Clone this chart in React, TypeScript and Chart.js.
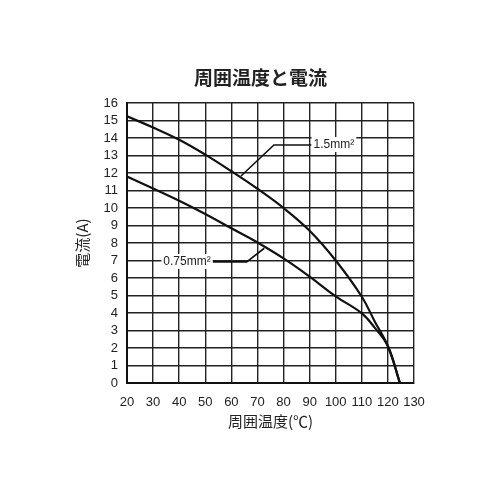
import React, { useEffect, useRef } from "react";
import { Chart, registerables } from "chart.js";

Chart.register(...registerables);

const TITLE = "周囲温度と電流";
const X_TITLE = "周囲温度(℃)";
const Y_TITLE = "電流(A)";

const temps = [20, 30, 40, 50, 60, 70, 80, 90, 100, 110, 115, 120, 124.6];
const current15 = [15.24, 14.6, 13.9, 13.05, 12.1, 11.1, 10.0, 8.7, 7.0, 4.93, 3.5, 2.1, 0];
const current075 = [11.8, 11.12, 10.42, 9.66, 8.84, 8.03, 7.12, 6.08, 4.95, 3.98, 3.15, 2.1, 0];

const LABEL_15 = "1.5mm²";
const LABEL_075 = "0.75mm²";

// annotation anchors in data units
const ann15 = { lx: 99.3, ly: 13.6, cx: 76.3, tx: 63.7, ty: 11.83 };
const ann075 = { lx: 43, ly: 6.92, cx: 65.9, tx: 72.6, ty: 7.7 };

const FONT = "'Liberation Sans', Arial, sans-serif";
const CJK = "'Noto Sans CJK JP', 'Liberation Sans', sans-serif";

const titlePlugin = {
  id: "fixedTitle",
  afterDraw(chart: any) {
    const ctx = chart.ctx;
    const a = chart.chartArea;
    ctx.save();
    ctx.font = `bold 19px ${CJK}`;
    ctx.fillStyle = "#222";
    ctx.textAlign = "center";
    ctx.textBaseline = "middle";
    ctx.fillText(TITLE, (a.left + a.right) / 2 - 10, a.top - 25);
    ctx.restore();
  },
};

const annotationPlugin = {
  id: "leaderLabels",
  afterDatasetsDraw(chart: any) {
    const ctx = chart.ctx;
    const xs = chart.scales.x;
    const ys = chart.scales.y;
    const draw = (a: any, text: string) => {
      ctx.save();
      ctx.font = `12px ${FONT}`;
      const w = ctx.measureText(text).width;
      const lx = xs.getPixelForValue(a.lx);
      const ly = ys.getPixelForValue(a.ly);
      const cx = xs.getPixelForValue(a.cx);
      const tx = xs.getPixelForValue(a.tx);
      const ty = ys.getPixelForValue(a.ty);
      ctx.strokeStyle = "#111";
      ctx.lineWidth = 1.6;
      ctx.beginPath();
      const near = a.lx > a.cx ? lx - w / 2 - 2 : lx + w / 2 + 2;
      ctx.moveTo(near, ly);
      ctx.lineTo(cx, ly);
      ctx.lineTo(tx, ty);
      ctx.stroke();
      ctx.fillStyle = "#fff";
      ctx.fillRect(lx - w / 2 - 2, ly - 8, w + 4, 15);
      ctx.fillStyle = "#222";
      ctx.textAlign = "center";
      ctx.textBaseline = "middle";
      ctx.fillText(text, lx, ly);
      ctx.restore();
    };
    draw(ann15, LABEL_15);
    draw(ann075, LABEL_075);
  },
};

export default function App() {
  const ref = useRef<HTMLCanvasElement | null>(null);
  useEffect(() => {
    if (!ref.current) return;
    const mk = (label: string, vals: number[]) => ({
      label,
      data: temps.map((t, i) => ({ x: t, y: vals[i] })),
      borderColor: "#111",
      borderWidth: 2.2,
      pointRadius: 0,
      tension: 0.4,
      fill: false,
    });
    const chart = new Chart(ref.current, {
      type: "line",
      data: { datasets: [mk(LABEL_15, current15), mk(LABEL_075, current075)] },
      options: {
        responsive: false,
        animation: false,
        layout: { padding: { left: 73, right: 86, top: 103, bottom: 70 } },
        plugins: {
          legend: { display: false },
          tooltip: { enabled: false },
          title: { display: false },
        },
        scales: {
          x: {
            type: "linear",
            min: 20,
            max: 130,
            border: { color: "#111", width: 2 },
            grid: { color: "#222", lineWidth: 1.4, drawTicks: false },
            ticks: {
              stepSize: 10,
              padding: 12,
              color: "#222",
              autoSkip: false,
              font: { family: FONT, size: 13 },
              maxRotation: 0,
            },
            title: {
              display: true,
              text: X_TITLE,
              color: "#222",
              font: { family: CJK, size: 15 },
              padding: { top: 0, bottom: 0 },
            },
            afterFit(scale: any) {
              scale.height = 47;
            },
          },
          y: {
            min: 0,
            max: 16,
            border: { color: "#111", width: 2 },
            grid: { color: "#222", lineWidth: 1.4, drawTicks: false },
            ticks: {
              stepSize: 1,
              padding: 9,
              color: "#222",
              autoSkip: false,
              font: { family: FONT, size: 13 },
            },
            title: {
              display: true,
              text: Y_TITLE,
              color: "#222",
              font: { family: CJK, size: 15 },
              padding: { top: 0, bottom: 0 },
            },
            afterFit(scale: any) {
              scale.width = 54;
            },
          },
        },
      },
      plugins: [annotationPlugin, titlePlugin],
    } as any);
    return () => chart.destroy();
  }, []);
  return (
    <canvas
      ref={ref}
      width={500}
      height={500}
      style={{ position: "absolute", left: 0, top: 0, width: 500, height: 500, background: "#fff" }}
    />
  );
}
